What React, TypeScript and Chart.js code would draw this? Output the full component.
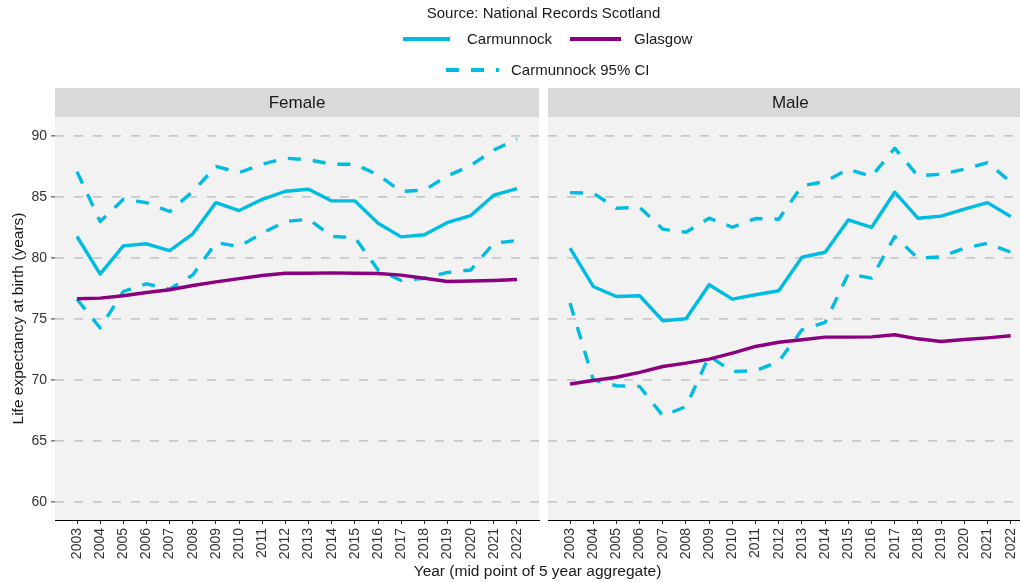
import React, { useEffect, useRef } from "react";
import { Chart, registerables } from "chart.js";

Chart.register(...registerables);

// ---------------- data ----------------
const years = [2003, 2004, 2005, 2006, 2007, 2008, 2009, 2010, 2011, 2012, 2013, 2014, 2015, 2016, 2017, 2018, 2019, 2020, 2021, 2022];

const femaleCarmunnock = [81.75, 78.66, 80.98, 81.15, 80.6, 81.97, 84.53, 83.88, 84.8, 85.46, 85.63, 84.67, 84.67, 82.84, 81.72, 81.89, 82.9, 83.47, 85.14, 85.68];
const femaleCarmunnockUpper = [87.07, 82.98, 84.8, 84.53, 83.8, 85.44, 87.5, 86.99, 87.68, 88.17, 88.05, 87.68, 87.68, 86.8, 85.44, 85.55, 86.72, 87.57, 88.85, 89.75];
const femaleCarmunnockLower = [76.6, 74.25, 77.24, 77.87, 77.43, 78.6, 81.25, 80.93, 82.02, 82.98, 83.17, 81.75, 81.67, 79.0, 78.14, 78.33, 78.8, 79.0, 81.2, 81.42];
const femaleGlasgow = [76.64, 76.7, 76.89, 77.16, 77.38, 77.73, 78.03, 78.3, 78.55, 78.74, 78.74, 78.77, 78.74, 78.72, 78.58, 78.33, 78.06, 78.1, 78.14, 78.22];

const maleCarmunnock = [80.8, 77.65, 76.83, 76.89, 74.84, 75.0, 77.79, 76.61, 76.97, 77.3, 80.05, 80.46, 83.11, 82.49, 85.38, 83.25, 83.42, 84.0, 84.53, 83.39];
const maleCarmunnockUpper = [85.35, 85.3, 84.07, 84.15, 82.35, 82.1, 83.25, 82.51, 83.22, 83.17, 85.9, 86.26, 87.27, 86.67, 88.99, 86.72, 86.86, 87.27, 87.81, 86.23];
const maleCarmunnockLower = [76.3, 70.0, 69.51, 69.45, 67.05, 67.8, 71.95, 70.68, 70.74, 71.5, 74.1, 74.7, 78.69, 78.33, 81.75, 79.97, 80.08, 80.79, 81.2, 80.46];
const maleGlasgow = [69.65, 69.94, 70.21, 70.6, 71.09, 71.36, 71.69, 72.19, 72.73, 73.08, 73.28, 73.5, 73.5, 73.52, 73.69, 73.36, 73.14, 73.3, 73.44, 73.61];

const yTicks = [60, 65, 70, 75, 80, 85, 90];

const seriesNames = ["Carmunnock", "Glasgow", "Carmunnock 95% CI"];
const panelNames = ["Female", "Male"];
const sourceText = "Source: National Records Scotland";
const xTitle = "Year (mid point of 5 year aggregate)";
const yTitle = "Life expectancy at birth (years)";

// ---------------- style ----------------
const CYAN = "#00BCE3";
const PURPLE = "#8C0080";
const FONT = "'Liberation Sans', Arial, Helvetica, sans-serif";
const W = 1040;
const H = 582;
const PANEL_TOP = 117;
const STRIP_TOP = 88;
const LINE_W = 3.4;
const CI_DASH = [13, 12];

const pts = (arr: number[]) => years.map((x, i) => ({ x, y: arr[i] }));

const panelPlugin = (label: string) => ({
  id: "panel_" + label,
  beforeDraw(chart: any) {
    const { ctx, chartArea } = chart;
    ctx.save();
    ctx.fillStyle = "#F2F2F2";
    ctx.fillRect(chartArea.left, chartArea.top, chartArea.right - chartArea.left, chartArea.bottom - chartArea.top);
    ctx.fillStyle = "#D9D9D9";
    ctx.fillRect(chartArea.left, STRIP_TOP, chartArea.right - chartArea.left, chartArea.top - STRIP_TOP);
    ctx.fillStyle = "#1A1A1A";
    ctx.font = `17px ${FONT}`;
    ctx.textAlign = "center";
    ctx.textBaseline = "middle";
    ctx.fillText(label, (chartArea.left + chartArea.right) / 2, (STRIP_TOP + chartArea.top) / 2 + 1);
    ctx.restore();
  },
});

const headerPlugin = {
  id: "header",
  afterDraw(chart: any) {
    const ctx = chart.ctx;
    ctx.save();
    ctx.fillStyle = "#1A1A1A";
    ctx.textBaseline = "middle";
    ctx.font = `15px ${FONT}`;
    ctx.textAlign = "center";
    ctx.fillText(sourceText, 543.5, 14);
    ctx.textAlign = "left";
    // row 1
    ctx.lineCap = "butt";
    ctx.lineWidth = 4;
    ctx.strokeStyle = CYAN;
    ctx.beginPath();
    ctx.moveTo(403, 39);
    ctx.lineTo(450, 39);
    ctx.stroke();
    ctx.fillText(seriesNames[0], 467, 40);
    ctx.strokeStyle = PURPLE;
    ctx.beginPath();
    ctx.moveTo(570, 39);
    ctx.lineTo(621, 39);
    ctx.stroke();
    ctx.fillText(seriesNames[1], 634, 40);
    // row 2
    ctx.strokeStyle = CYAN;
    ctx.setLineDash(CI_DASH);
    ctx.beginPath();
    ctx.moveTo(446, 70);
    ctx.lineTo(499, 70);
    ctx.stroke();
    ctx.setLineDash([]);
    ctx.fillText(seriesNames[2], 511, 71);
    // x axis title
    ctx.textAlign = "center";
    ctx.font = `15.5px ${FONT}`;
    ctx.fillText(xTitle, 537.5, 572);
    ctx.restore();
  },
};

function makeConfig(side: "left" | "right", carm: number[], lo: number[], hi: number[], glas: number[]): any {
  const isLeft = side === "left";
  const areaLeft = isLeft ? 55 : 548;
  const areaRight = isLeft ? 539 : 1032.7;
  return {
    type: "line",
    data: {
      datasets: [
        { label: seriesNames[0], data: pts(carm), borderColor: CYAN, borderWidth: LINE_W, pointRadius: 0, order: 0, borderJoinStyle: "round" },
        { label: seriesNames[1], data: pts(glas), borderColor: PURPLE, borderWidth: LINE_W, pointRadius: 0, order: 1, borderJoinStyle: "round" },
        { label: seriesNames[2] + " upper", data: pts(hi), borderColor: CYAN, borderWidth: LINE_W, borderDash: CI_DASH, pointRadius: 0, order: 2, borderJoinStyle: "round" },
        { label: seriesNames[2] + " lower", data: pts(lo), borderColor: CYAN, borderWidth: LINE_W, borderDash: CI_DASH, pointRadius: 0, order: 2, borderJoinStyle: "round" },
      ],
    },
    options: {
      responsive: false,
      animation: false,
      devicePixelRatio: 1,
      events: [],
      layout: { padding: { top: PANEL_TOP, bottom: 0, left: isLeft ? 0 : areaLeft, right: W - areaRight } },
      plugins: { legend: { display: false }, title: { display: false }, tooltip: { enabled: false } },
      scales: {
        x: {
          type: "linear",
          min: 2002.05,
          max: 2022.95,
          afterBuildTicks: (s: any) => {
            s.ticks = years.map((v) => ({ value: v }));
          },
          afterFit: (s: any) => {
            s.height = 62;
          },
          ticks: {
            autoSkip: false,
            minRotation: 90,
            maxRotation: 90,
            padding: 4,
            color: "#333333",
            font: { family: FONT, size: 14 },
            callback: (v: any) => String(v),
          },
          grid: { drawOnChartArea: false, drawTicks: true, tickLength: 4, tickColor: "#333333", tickWidth: 1 },
          border: { display: true, color: "#000000", width: 1 },
        },
        y: {
          type: "linear",
          min: 58.5,
          max: 91.55,
          afterBuildTicks: (s: any) => {
            s.ticks = yTicks.map((v) => ({ value: v }));
          },
          afterFit: (s: any) => {
            s.width = isLeft ? areaLeft : 0;
          },
          ticks: {
            display: isLeft,
            padding: 4,
            color: "#333333",
            font: { family: FONT, size: 14 },
            callback: (v: any) => String(v),
          },
          grid: {
            color: "#C8C8C8",
            lineWidth: 1.8,
            drawTicks: isLeft,
            tickLength: 4,
            tickColor: "#333333",
            tickWidth: 1,
            tickBorderDash: [],
          },
          border: { display: false, dash: [9, 10] },
          title: {
            display: isLeft,
            text: yTitle,
            color: "#1A1A1A",
            font: { family: FONT, size: 15.5 },
            padding: { top: 9, bottom: 0 },
          },
        },
      },
    },
    plugins: isLeft ? [panelPlugin(panelNames[0]), headerPlugin] : [panelPlugin(panelNames[1])],
  };
}

export default function App() {
  const leftRef = useRef<HTMLCanvasElement>(null);
  const rightRef = useRef<HTMLCanvasElement>(null);

  useEffect(() => {
    document.body.style.margin = "0";
    const a = new Chart(leftRef.current as HTMLCanvasElement, makeConfig("left", femaleCarmunnock, femaleCarmunnockLower, femaleCarmunnockUpper, femaleGlasgow));
    const b = new Chart(rightRef.current as HTMLCanvasElement, makeConfig("right", maleCarmunnock, maleCarmunnockLower, maleCarmunnockUpper, maleGlasgow));
    return () => {
      a.destroy();
      b.destroy();
    };
  }, []);

  const canvasStyle: React.CSSProperties = { position: "absolute", left: 0, top: 0, width: W, height: H };
  return (
    <div style={{ position: "fixed", left: 0, top: 0, width: 1020, height: 582, overflow: "hidden", background: "#ffffff" }}>
      <canvas ref={leftRef} width={W} height={H} style={canvasStyle} />
      <canvas ref={rightRef} width={W} height={H} style={canvasStyle} />
    </div>
  );
}
